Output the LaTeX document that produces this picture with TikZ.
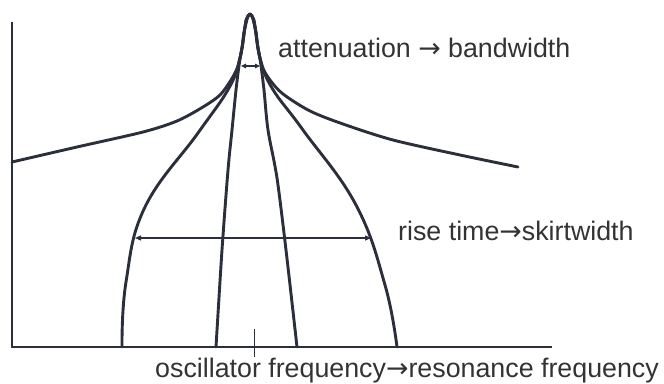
\documentclass[tikz,border=0pt]{standalone}
\usepackage{fontspec}
\setmainfont{Liberation Sans}
\newfontfamily\arrowfont{DejaVu Sans}
\newcommand{\toarrow}{{\arrowfont →}}
\usetikzlibrary{arrows.meta}
\definecolor{ink}{HTML}{2B2E3B}
\definecolor{txt}{HTML}{333333}
\tikzset{
  >={Triangle[length=6pt,width=5pt]},
  curve/.style={draw=ink, line width=2.9pt, line cap=round, line join=round},
  axis/.style={draw=ink, line width=2.9pt},
  span/.style={<->, draw=ink, line width=1.2pt},
  lab/.style={text=txt, font=\fontsize{26.8}{32}\selectfont, inner sep=0pt, anchor=base west},
}
\begin{document}
\begin{tikzpicture}[x=1pt,y=-1pt]
  \useasboundingbox (0,0) rectangle (664,383);
  % axes and tick
  \draw[axis] (12,22) -- (12,347) -- (552,347);
  \draw[ink, line width=1pt] (254,329) -- (254,357);
  % wide curve
  \draw[curve] plot[smooth,tension=0.5] coordinates {(12,162) (77,147) (143,132) (177,121) (203,107) (220,95) (231,80) (238,66) (242.5,45) (244.5,30) (246.5,19) (250,14) (253.5,19) (255.5,30) (257.5,45) (262,66) (270,80) (283,94) (310,111) (343,124) (393,140) (460,155) (518,167)};
  % skirt curve
  \draw[curve] plot[smooth,tension=0.7] coordinates {(122,347) (126,282) (145,207) (198,133) (229,88) (240,58) (244.5,30) (250,14) (255.5,30) (260,58) (272,88) (303,130) (356,205) (385,285) (397,347)};
  % steep curve
  \draw[curve] plot[smooth,tension=0.5] coordinates {(216,347) (222,250) (228,170) (232,130) (236,90) (239.5,62) (242.5,45) (244.5,30) (246.5,19) (250,14) (253.5,19) (255.5,30) (257.5,45) (260.5,62) (264,90) (268,130) (277,178) (286,250) (297,347)};
  % widths
  \coordinate (bwL) at (241,66);
  \coordinate (bwR) at (260,66);
  \coordinate (skL) at (135,238);
  \coordinate (skR) at (371,238);
  \draw[span, >={Triangle[length=5pt,width=4.5pt]}] (bwL) -- (bwR);
  \draw[span] (skL) -- (skR);
  % labels
  \node[lab] (bw) at (278,57) {attenuation \toarrow{} bandwidth};
  \node[lab] (sk) at (398,240) {rise time\toarrow skirtwidth};
  \node[lab] (fq) at (155,377) {oscillator frequency\toarrow resonance frequency};
\end{tikzpicture}
\end{document}
